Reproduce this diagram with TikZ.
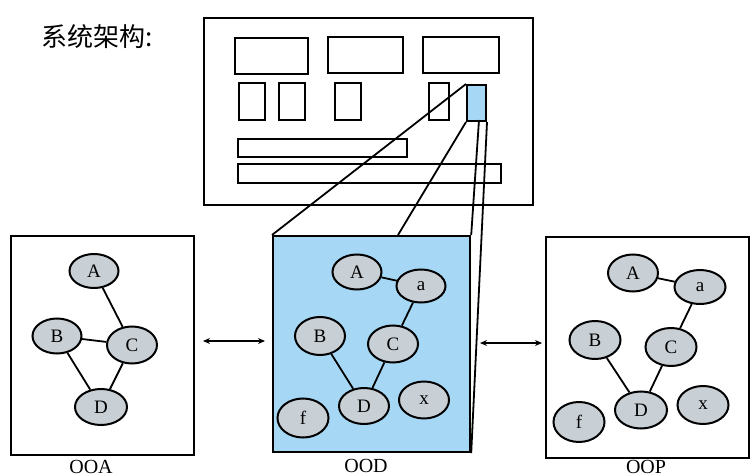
\documentclass[tikz,border=0pt]{standalone}
\usepackage{fontspec}
\setmainfont{Liberation Serif}
\newfontfamily\cjk{Noto Sans CJK SC}
\usetikzlibrary{shapes.geometric,arrows.meta}
\definecolor{oodblue}{HTML}{A6D8F6}
\definecolor{nodegray}{HTML}{C8CFD5}
\begin{document}
\begin{tikzpicture}[x=1pt,y=-1pt,
  el/.style={ellipse, draw, line width=2pt, fill=nodegray, minimum width=50pt, minimum height=36pt, inner sep=0pt, font=\fontsize{19}{19}\selectfont},
  frame/.style={draw, line width=2.2pt, inner sep=0pt, anchor=north west},
  part/.style={draw, line width=2pt},
  edge/.style={line width=1.8pt},
  dbl/.style={line width=1.4pt, {Stealth[length=7pt,width=6pt]}-{Stealth[length=7pt,width=6pt]}},
  lbl/.style={inner sep=0pt, font=\fontsize{20}{20}\selectfont}]
\useasboundingbox (0,0) rectangle (750,476);
% title
\node[anchor=west, inner sep=0pt, font=\cjk\fontsize{26}{26}\selectfont] (title) at (41,37) {系统架构:};
% system architecture frame
\node[frame, minimum width=329pt, minimum height=187pt] (arch) at (203,17) {};
\draw[part] (235,38) rectangle (308,74);
\draw[part] (328,37) rectangle (403,73);
\draw[part] (423,37) rectangle (499,73);
\draw[part] (239,83) rectangle (265,120);
\draw[part] (279,83) rectangle (305,120);
\draw[part] (335,83) rectangle (361,120);
\draw[part] (429,83) rectangle (449,120);
\draw[part] (238,139) rectangle (407,157);
\draw[part] (238,164) rectangle (501,183);
\node[draw, line width=2pt, fill=oodblue, inner sep=0pt, anchor=north west, minimum width=19pt, minimum height=36pt] (sb) at (466,84) {};
% three boxes
\node[frame, minimum width=183pt, minimum height=219pt] (ooa) at (9.5,235) {};
\node[frame, fill=oodblue, minimum width=197pt, minimum height=216pt] (ood) at (272,235) {};
\node[frame, minimum width=203.5pt, minimum height=221pt] (oop) at (544.5,235.5) {};
\node[lbl] (ooaL) at (91,466.5) {OOA};
\node[lbl] (oodL) at (366,465.5) {OOD};
\node[lbl] (oopL) at (646,466.5) {OOP};
% zoom lines
\coordinate (sbm) at (479,120);
\coordinate (oodt) at (398,235);
\draw[edge] (sb.north west) -- (ood.north west);
\draw[edge] (sb.south west) -- (oodt);
\draw[edge] (sbm) -- (ood.north east);
\draw[edge] (sb.south east) -- (ood.south east);
% arrows
\coordinate (l1) at (203,341);
\coordinate (l2) at (265,341);
\coordinate (r1) at (480,343);
\coordinate (r2) at (542,343);
\draw[dbl] (l1) -- (l2);
\draw[dbl] (r1) -- (r2);
% OOA graph
\node[el, minimum width=49pt, minimum height=34pt] (aA) at (94,271) {A};
\node[el, minimum width=49pt, minimum height=35pt] (aB) at (57,336) {B};
\node[el, minimum width=50pt, minimum height=37pt] (aC) at (132,345) {C};
\node[el, minimum width=52pt, minimum height=36pt] (aD) at (101,407) {D};
\draw[edge] (aA) -- (aC);
\draw[edge] (aB) -- (aC);
\draw[edge] (aB) -- (aD);
\draw[edge] (aC) -- (aD);
% OOD graph
\node[el, minimum width=49pt, minimum height=35pt] (dA) at (357,272) {A};
\node[el, minimum width=49pt, minimum height=33pt] (da) at (421,286) {a};
\node[el, minimum width=50pt, minimum height=38pt] (dB) at (320,336) {B};
\node[el, minimum width=50pt, minimum height=37pt] (dC) at (393,344) {C};
\node[el, minimum width=50pt, minimum height=36pt] (dD) at (364,406) {D};
\node[el, minimum width=50pt, minimum height=37pt] (dx) at (424,400) {x};
\node[el, minimum width=51pt, minimum height=39pt] (df) at (303,418) {f};
\draw[edge] (dA) -- (da);
\draw[edge] (da) -- (dC);
\draw[edge] (dB) -- (dD);
\draw[edge] (dC) -- (dD);
% OOP graph
\node[el, minimum width=50pt, minimum height=37pt] (pA) at (633,273) {A};
\node[el, minimum width=51pt, minimum height=34pt] (pa) at (700,287) {a};
\node[el, minimum width=51pt, minimum height=38pt] (pB) at (595,340) {B};
\node[el, minimum width=51pt, minimum height=38pt] (pC) at (671,347) {C};
\node[el, minimum width=52pt, minimum height=37pt] (pD) at (641,410) {D};
\node[el, minimum width=51pt, minimum height=38pt] (px) at (703,405) {x};
\node[el, minimum width=51pt, minimum height=40pt] (pf) at (579,422) {f};
\draw[edge] (pA) -- (pa);
\draw[edge] (pa) -- (pC);
\draw[edge] (pB) -- (pD);
\draw[edge] (pC) -- (pD);
\end{tikzpicture}
\end{document}
